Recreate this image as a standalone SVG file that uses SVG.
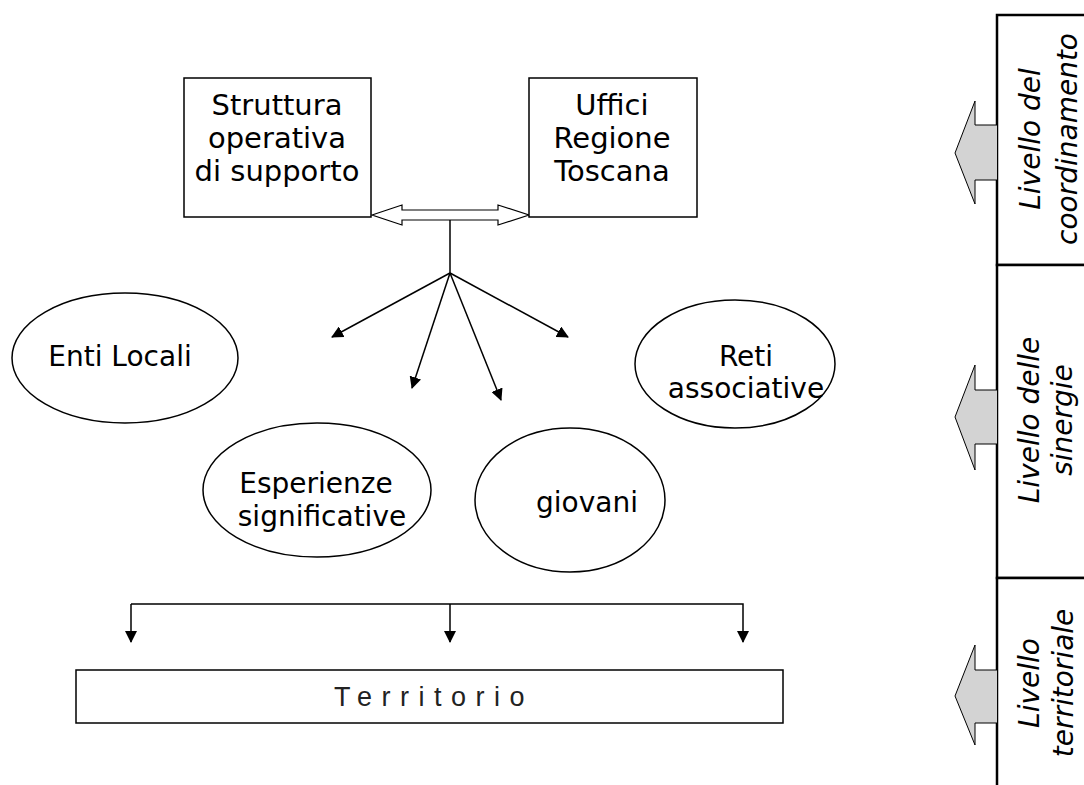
<svg xmlns="http://www.w3.org/2000/svg" width="1084" height="785" viewBox="0 0 1084 785">
<style>
.box{fill:#fff;stroke:#000;stroke-width:1.5}
.ell{fill:#fff;stroke:#000;stroke-width:1.5}
.t{font-family:"DejaVu Sans","Verdana",sans-serif;font-size:28px;fill:#000;text-anchor:middle}
.tb{font-family:"DejaVu Sans","Verdana",sans-serif;font-size:29px;fill:#000;text-anchor:middle}
.ti{font-family:"DejaVu Sans",sans-serif;font-size:28px;font-style:italic;fill:#000;text-anchor:middle}
.terr{font-family:"Liberation Sans",Arial,sans-serif;font-size:27px;letter-spacing:9.5px;fill:#222;text-anchor:middle}
.ln{fill:none;stroke:#000;stroke-width:1.5}
.col{fill:#fff;stroke:#000;stroke-width:2.5}
.bigarr{fill:#d3d3d3;stroke:#000;stroke-width:1}
.dbl{fill:#fff;stroke:#000;stroke-width:1.2}
</style>
<defs>
<marker id="ah" markerWidth="12" markerHeight="12" viewBox="0 0 12 12" refX="11" refY="6" orient="auto" markerUnits="userSpaceOnUse">
<path d="M0,0 L12,6 L0,12 Z" fill="#000"/>
</marker>
</defs>
<rect width="1084" height="785" fill="#fff"/>

<g id="connectors">
<path class="dbl" d="M372,215 L402,205 L402,210 L498,210 L498,205 L529,215 L498,225 L498,220 L402,220 L402,225 Z"/>
<line class="ln" x1="450" y1="220" x2="450" y2="273"/>
<line class="ln" x1="450" y1="273" x2="332" y2="337" marker-end="url(#ah)"/>
<line class="ln" x1="450" y1="273" x2="412" y2="388" marker-end="url(#ah)"/>
<line class="ln" x1="450" y1="273" x2="501" y2="400" marker-end="url(#ah)"/>
<line class="ln" x1="450" y1="273" x2="568" y2="337" marker-end="url(#ah)"/>
<polyline class="ln" points="131,604 743,604 743,642" marker-end="url(#ah)"/>
<line class="ln" x1="131" y1="604" x2="131" y2="642" marker-end="url(#ah)"/>
<line class="ln" x1="450" y1="604" x2="450" y2="642" marker-end="url(#ah)"/>
</g>

<g id="struttura">
<rect class="box" x="184" y="78" width="187" height="139"/>
<text class="tb" x="277" y="115">Struttura</text>
<text class="tb" x="277" y="148">operativa</text>
<text class="tb" x="277" y="181">di supporto</text>
</g>

<g id="uffici">
<rect class="box" x="529" y="78" width="168" height="139"/>
<text class="tb" x="612" y="115">Uffici</text>
<text class="tb" x="612" y="148">Regione</text>
<text class="tb" x="612" y="181">Toscana</text>
</g>

<g id="enti-locali">
<ellipse class="ell" cx="125" cy="358" rx="113" ry="65"/>
<text class="t" x="120" y="366">Enti Locali</text>
</g>

<g id="reti-associative">
<ellipse class="ell" cx="735" cy="364" rx="100" ry="64"/>
<text class="t" x="746" y="366">Reti</text>
<text class="t" x="746" y="398">associative</text>
</g>

<g id="esperienze">
<ellipse class="ell" cx="317" cy="490" rx="114" ry="67"/>
<text class="t" x="316" y="493">Esperienze</text>
<text class="t" x="322" y="526">significative</text>
</g>

<g id="giovani">
<ellipse class="ell" cx="570" cy="500" rx="95" ry="72"/>
<text class="t" x="587" y="512">giovani</text>
</g>

<g id="territorio">
<rect class="box" x="76" y="670" width="707" height="53"/>
<text class="terr" x="434" y="706">Territorio</text>
</g>

<g id="livello-coordinamento">
<rect class="col" x="997" y="15" width="100" height="250"/>
<path class="bigarr" d="M997,125 L975,125 L975,101 L955,153 L975,204 L975,180 L997,180"/>
<text class="ti" transform="translate(1040,139) rotate(-90)">Livello del</text>
<text class="ti" transform="translate(1077,139) rotate(-90)">coordinamento</text>
</g>

<g id="livello-sinergie">
<rect class="col" x="997" y="265" width="100" height="313"/>
<path class="bigarr" d="M997,390 L975,390 L975,365 L955,417 L975,470 L975,444 L997,444"/>
<text class="ti" transform="translate(1039,420) rotate(-90)">Livello delle</text>
<text class="ti" transform="translate(1072,420) rotate(-90)">sinergie</text>
</g>

<g id="livello-territoriale">
<rect class="col" x="997" y="578" width="100" height="220"/>
<path class="bigarr" d="M997,670 L975,670 L975,645 L955,696 L975,745 L975,723 L997,723"/>
<text class="ti" transform="translate(1039,683) rotate(-90)">Livello</text>
<text class="ti" transform="translate(1073,683) rotate(-90)">territoriale</text>
</g>
</svg>
